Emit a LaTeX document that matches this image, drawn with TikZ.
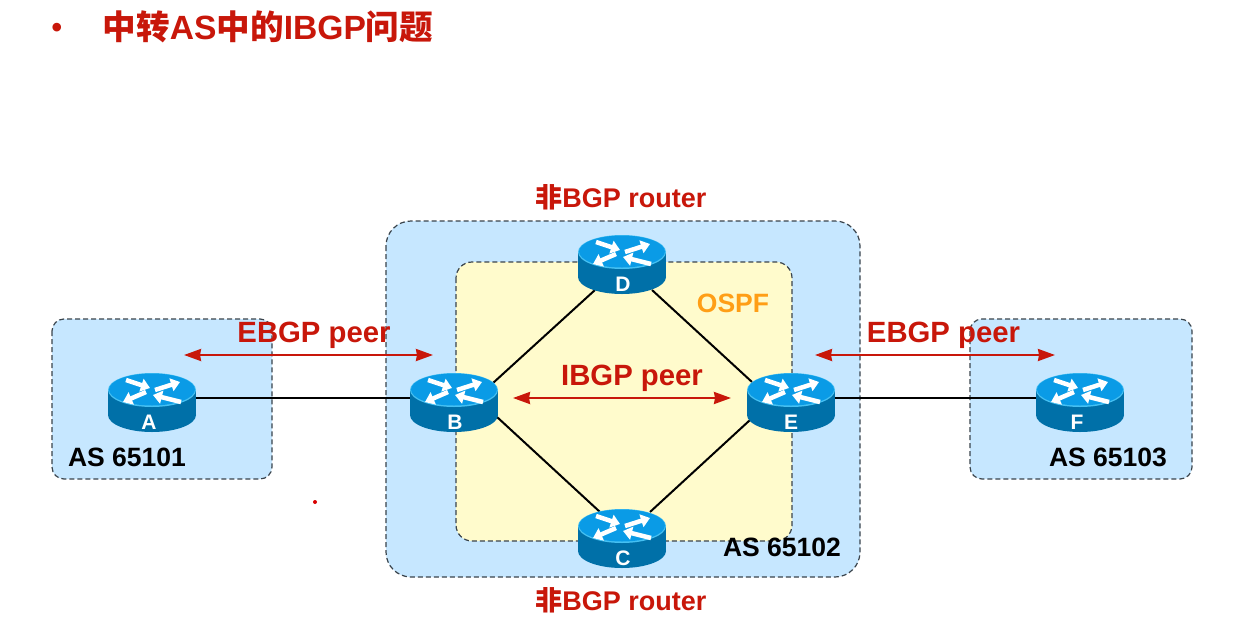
\documentclass[tikz,border=0pt]{standalone}
\usepackage{fontspec}
\setmainfont{Liberation Sans}
\newfontfamily\cjk{Noto Sans CJK SC}
\usetikzlibrary{arrows.meta}
\definecolor{skybox}{HTML}{C6E7FF}
\definecolor{creambox}{HTML}{FFFBCC}
\definecolor{edgegray}{HTML}{3A444C}
\definecolor{redtxt}{HTML}{C8170A}
\definecolor{orangetxt}{HTML}{FF9E16}
\definecolor{rtop}{HTML}{0A9BE6}
\definecolor{rrim}{HTML}{45C0F2}
\definecolor{rbody}{HTML}{0070A8}
\tikzset{
  x=1pt,y=-1pt,
  zone/.style={draw=edgegray,line width=1.2pt,dash pattern=on 5pt off 3pt},
  routeranchor/.style={minimum width=88pt,minimum height=70pt,inner sep=0pt,outer sep=0pt},
  link/.style={draw=black,line width=2pt},
  peer/.style={draw=redtxt,line width=2.2pt,{Stealth[length=17pt,width=12pt,inset=1pt]}-{Stealth[length=17pt,width=12pt,inset=1pt]}},
  swirl/.style={draw=white,line width=4.5pt,-{Triangle[length=9pt,width=13pt]}},
  txtred/.style={text=redtxt,font=\bfseries\fontsize{29.3}{31}\selectfont,inner sep=0pt},
  txtas/.style={text=black,font=\bfseries\fontsize{26.5}{30}\selectfont,inner sep=0pt},
  txtnon/.style={text=redtxt,font=\bfseries\fontsize{27}{30}\selectfont,inner sep=0pt},
  routerlabel/.style={text=white,font=\bfseries\fontsize{21}{22}\selectfont,inner sep=0pt},
}
\newcommand\routerbody[3]{%
  \begin{scope}[shift={(#1.center)}]
    \fill[rbody] (-44,-8) rectangle (44,17);
    \fill[rbody] (0,17) ellipse [x radius=44,y radius=17];
    \fill[rrim] (0,-8) ellipse [x radius=44,y radius=17];
    \fill[rtop] (0,-8.5) ellipse [x radius=43,y radius=16];
    \draw[swirl] (-26,-18) -- (-2,-10);
    \draw[swirl] (3,-8) -- (28,-16);
    \draw[swirl] (-6,-6) -- (-29,4);
    \draw[swirl] (29,4) -- (1,-3);
    \node[routerlabel] (#1label) at (#3,24) {#2};
  \end{scope}}
\begin{document}
\begin{tikzpicture}
\useasboundingbox (0,0) rectangle (1244,632);
\fill[white] (0,0) rectangle (1244,632);
% zones
\draw[zone,fill=skybox,rounded corners=12pt] (52,319) rectangle (272,479);
\draw[zone,fill=skybox,rounded corners=12pt] (970,319) rectangle (1192,479);
\draw[zone,fill=skybox,rounded corners=25pt] (386,221) rectangle (860,577);
\draw[zone,fill=creambox,rounded corners=16pt] (456,262) rectangle (792,541);
% router anchors
\node[routeranchor] (A) at (152,398) {};
\node[routeranchor] (B) at (454,398) {};
\node[routeranchor] (E) at (791,398) {};
\node[routeranchor] (F) at (1080,398) {};
\node[routeranchor] (D) at (622,260) {};
\node[routeranchor] (C) at (622,534) {};
% links
\draw[link] (A) -- (B);
\draw[link] (E) -- (F);
\draw[link] ([shift={(39,-15)}]B.center) -- ([shift={(-27,30)}]D.center);
\draw[link] ([shift={(30,30)}]D.center) -- ([shift={(-39,-16)}]E.center);
\draw[link] ([shift={(-41,22)}]E.center) -- ([shift={(28,-22)}]C.center);
\draw[link] ([shift={(43,19)}]B.center) -- ([shift={(-22,-22)}]C.center);
% routers
\routerbody{A}{A}{-3}
\routerbody{B}{B}{1}
\routerbody{E}{E}{0}
\routerbody{F}{F}{-3}
\routerbody{D}{D}{1}
\routerbody{C}{C}{1}
% peer arrows
\coordinate (p1) at (184,355); \coordinate (p2) at (433,355);
\coordinate (p3) at (513,398); \coordinate (p4) at (731,398);
\coordinate (p5) at (815,355); \coordinate (p6) at (1055,355);
\draw[peer] (p1) -- (p2);
\draw[peer] (p3) -- (p4);
\draw[peer] (p5) -- (p6);
% labels
\node[txtred] (t1) at (314,335) {EBGP peer};
\node[txtred] (t2) at (943.5,335) {EBGP peer};
\node[txtred] (t3) at (632,378) {IBGP peer};
\node[txtas] (t4) at (127,457) {AS 65101};
\node[txtas] (t5) at (1108,457) {AS 65103};
\node[txtas] (t6) at (782,547) {AS 65102};
\node[txtas,text=orangetxt] (t7) at (733,303) {OSPF};
\node[txtnon] (t8) at (621,197) {{\cjk\bfseries 非}BGP router};
\node[txtnon] (t9) at (621,600) {{\cjk\bfseries 非}BGP router};
\node[text=redtxt,font=\bfseries\fontsize{33.6}{36}\selectfont,inner sep=0pt,anchor=west] (title) at (102.5,27) {{\cjk\bfseries 中转}AS{\cjk\bfseries 中的}IBGP{\cjk\bfseries 问题}};
\node[text=redtxt,font=\bfseries\fontsize{30}{32}\selectfont,inner sep=0pt] (bullet) at (57,30) {•};
\fill[red!85!black] (315,502) circle (2);
\end{tikzpicture}
\end{document}
